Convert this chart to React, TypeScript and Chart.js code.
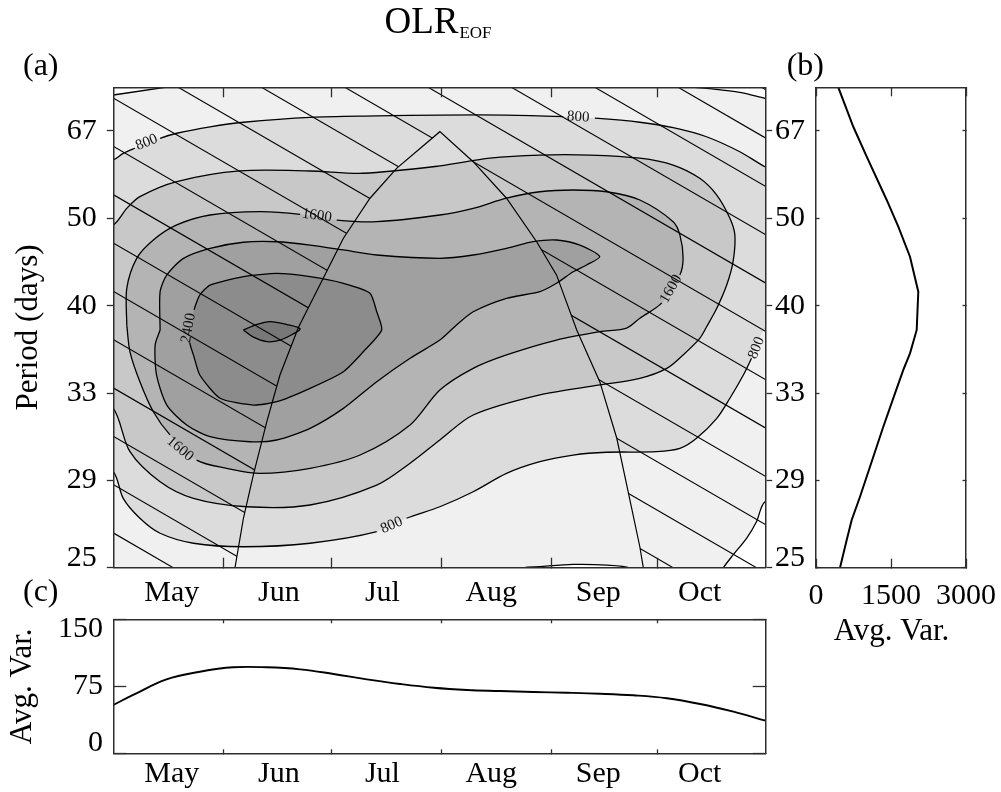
import React, { useEffect, useRef } from 'react';
import { Chart, registerables } from 'chart.js';

Chart.register(...registerables);

/* ================= data ================= */

// x of panels (a) and (c): days since 1 May
const monthLabels = ['May', 'Jun', 'Jul', 'Aug', 'Sep', 'Oct'];
const monthLabelDays = [16.5, 46.7, 75.9, 106.6, 136.8, 165.4];
const monthTickDays = [31, 61.4, 92.6, 123.6, 153.5];
const dayMin = 0;
const dayMax = 184;

// y of panels (a) and (b): frequency in 1e-3 cycles/day, labelled with the period 1000/f (days)
const freqTicks = [15, 20, 25, 30, 35, 40];
const freqMin = 12.5;
const freqMax = 40;

// panel (b): average variance against frequency
const spectrumFreq = [12.5, 14.76, 16.47, 18.95, 20.48, 22.2, 24.2, 26.39, 27.73, 28.68, 30.02, 31.93, 34.22, 35.94, 37.27, 38.41, 40.0];
const spectrumVar = [446, 746, 1014, 1414, 1646, 1880, 2046, 2014, 1880, 1746, 1580, 1346, 1080, 880, 714, 614, 480];
const spectrumVarTicks = [0, 1500, 3000];

// panel (c): average variance against day of season
const seasonDays = [0, 5.6, 15.0, 24.4, 33.8, 43.3, 52.7, 62.1, 71.5, 80.9, 90.4, 99.8, 109.1, 118.5, 127.9, 137.3, 146.7, 156.1, 165.5, 174.9, 184];
const seasonAvgVar = [54.1, 65.3, 82.8, 91.3, 96.3, 96.3, 94.0, 88.8, 82.8, 77.6, 73.4, 70.9, 69.7, 68.6, 67.8, 66.7, 64.9, 61.6, 55.2, 46.6, 36.5];
const seasonVarTicks = [0, 75, 150];

// panel (a): filled contours, [day, freq] outlines (points past the frame close a region outside it)
type Pt = [number, number];
const below400TopLeft: Pt[] = [[-4, 13.06], [0, 12.94], [14.6, 12.5], [24.6, 12.2], [-4, 12.2]];
const below400TopRight: Pt[] = [[192, 13.5], [183.8, 13.13], [176.7, 12.79], [167.3, 12.56], [163, 12.48], [158, 12.2], [192, 12.2]];
const below400BottomRight: Pt[] = [[192, 35.7], [183.8, 36.22], [181.4, 37.37], [178.6, 38.32], [174.8, 39.27], [172.0, 40.02], [170.5, 40.6], [192, 40.6]];
const below400Bottom: Pt[] = [[112, 40.6], [115.5, 40.02], [120.3, 39.94], [129.7, 39.81], [139.1, 39.85], [145.7, 40.02], [149, 40.6]];
const above800: Pt[] = [
  [-6, 16.9], [0, 16.66], [2.8, 16.28], [6.1, 15.99], [13.2, 15.42], [17.9, 15.13], [27.3, 14.76], [36.7, 14.5],
  [55.5, 14.22], [74.3, 14.14], [92.1, 14.09], [110.9, 14.09], [126.9, 14.18], [135.8, 14.27], [148.5, 14.5],
  [157.9, 14.81], [167.3, 15.33], [176.7, 16.19], [183.8, 17.05], [190, 17.6], [190, 26.0], [183.8, 26.33],
  [180.0, 28.01], [177.7, 28.97], [173.9, 30.3], [170.2, 31.45], [164.5, 32.59], [159.8, 33.17], [153.2, 33.36],
  [139.1, 33.39], [129.7, 33.55], [120.3, 33.93], [110.9, 34.6], [101.5, 35.65], [92.1, 36.51], [82.7, 37.17],
  [74.3, 37.94], [55.5, 38.6], [36.7, 38.8], [22.6, 38.6], [13.2, 38.03], [7.5, 37.17], [2.8, 36.03], [0, 34.5],
  [-6, 34.0], [-6, 16.9],
];
const above1200: Pt[] = [
  [-6, 20.6], [0, 20.38], [3.8, 19.43], [7.5, 18.76], [17.9, 17.9], [35.7, 17.29], [55.5, 17.29], [70.5, 17.42],
  [92.1, 17.0], [106.2, 16.56], [120.3, 16.38], [134.4, 16.38], [148.5, 16.56], [157.9, 16.95], [165.4, 17.71],
  [170.2, 18.67], [173.9, 20.0], [175.3, 20.95], [174.8, 22.48], [173.0, 23.82], [170.2, 25.15], [167.3, 26.22],
  [165.4, 26.87], [160.7, 27.82], [156.1, 28.59], [148.5, 29.16], [137.2, 29.54], [120.3, 30.11], [101.5, 31.26],
  [92.1, 32.69], [83.7, 34.02], [74.3, 35.27], [55.5, 36.41], [37.6, 36.51], [22.6, 36.03], [13.2, 35.08],
  [4.7, 33.36], [0, 30.88], [-6, 30.5], [-6, 20.6],
];
const above1600: Pt[] = [
  [3.8, 26.11], [3.8, 24.01], [6.6, 22.29], [11.3, 21.24], [17.9, 20.38], [27.3, 19.81], [41.4, 19.62], [52.7, 19.77],
  [63.0, 20.1], [74.3, 20.19], [92.1, 19.81], [101.5, 19.43], [110.9, 18.85], [120.3, 18.48], [129.7, 18.38],
  [139.1, 18.48], [148.5, 18.95], [157.9, 20.19], [159.8, 20.95], [160.7, 22.29], [159.8, 23.24], [154.7, 24.84],
  [148.5, 25.72], [144.8, 26.28], [137.2, 26.49], [125.0, 26.97], [110.9, 27.82], [101.5, 28.59], [92.1, 29.83],
  [83.7, 31.83], [69.6, 33.55], [55.5, 34.31], [41.4, 34.6], [32.0, 34.31], [23.5, 33.84], [16.0, 32.4],
  [11.3, 31.07], [7.5, 29.35], [4.7, 27.64], [3.8, 26.11],
];
const above2000: Pt[] = [
  [13.2, 26.39], [13.2, 24.2], [15.1, 23.24], [19.8, 22.29], [27.3, 21.72], [36.7, 21.37], [46.1, 21.34], [55.5, 21.53],
  [64.9, 21.81], [74.3, 22.1], [92.1, 22.29], [101.5, 22.1], [110.9, 21.72], [118.4, 21.34], [125.0, 21.24],
  [131.6, 21.53], [137.2, 22.19], [133.5, 22.67], [129.7, 23.06], [125.0, 23.72], [120.3, 24.2], [110.9, 24.58],
  [101.5, 25.35], [96.8, 26.11], [92.1, 26.97], [83.7, 28.01], [74.3, 29.35], [64.9, 30.88], [55.5, 32.02],
  [46.1, 32.69], [38.5, 32.79], [27.3, 32.5], [20.7, 31.83], [15.1, 30.69], [12.2, 28.97], [11.8, 27.25], [13.2, 26.39],
];
const above2400: Pt[] = [
  [22.6, 27.82], [21.6, 27.12], [22.8, 25.24], [24.4, 24.39], [27.3, 23.82], [36.7, 23.34], [46.1, 23.15], [55.5, 23.34],
  [64.9, 23.72], [72.4, 24.29], [74.3, 25.35], [75.7, 26.39], [70.5, 27.64], [64.9, 28.78], [55.5, 29.73],
  [46.1, 30.5], [39.5, 30.69], [30.1, 30.3], [24.4, 28.97], [22.6, 27.82],
];
const above2800: Pt[] = [
  [36.7, 26.39], [40.0, 26.11], [44.2, 25.91], [49.0, 26.08], [52.7, 26.33], [50.7, 26.62], [47.0, 26.97],
  [43.3, 27.06], [39.4, 26.79], [36.7, 26.39],
];

// contour labels
const contourLabels = [
  { text: '800', day: 9.4, freq: 15.66, angle: -22 },
  { text: '800', day: 131.1, freq: 14.2, angle: 3 },
  { text: '1600', day: 57.4, freq: 19.85, angle: 8 },
  { text: '2400', day: 21.2, freq: 26.28, angle: -80 },
  { text: '1600', day: 18.8, freq: 33.2, angle: 40 },
  { text: '800', day: 78.5, freq: 37.58, angle: -24 },
  { text: '1600', day: 157.3, freq: 24.05, angle: -60 },
  { text: '800', day: 181.4, freq: 27.42, angle: -68 },
];

// arch (edge of the unhatched region)
const archDay = [34.3, 36.7, 39.5, 43.3, 47.0, 52.2, 59.2, 64.9, 72.4, 79.9, 92.1, 101.5, 110.9, 119.4, 125.0, 130.7, 137.2, 142.0, 145.2, 148.5, 149.5];
const archFreq = [40.02, 37.17, 34.69, 31.64, 28.97, 26.25, 23.43, 21.14, 18.85, 17.14, 15.04, 16.76, 18.85, 21.34, 23.24, 26.39, 29.35, 32.59, 35.65, 38.8, 40.02];

// hatch lines outside the arch: day where each meets the top (f = 12.5) and bottom (f = 40)
const hatchTopDay = [-216.7, -193.2, -169.7, -146.2, -122.7, -99.2, -75.7, -52.2, -28.7, -5.2, 18.3, 41.8, 65.3, 88.8, 112.3, 135.8, 159.3, 182.8];
const hatchBottomDay = [16.9, 40.4, 63.9, 87.4, 110.9, 134.4, 157.9, 181.4, 204.9, 228.4, 251.9, 275.4, 298.9, 322.4, 345.9, 369.4, 392.9, 416.4];

/* ================= styling ================= */

const SERIF = "'Liberation Serif', 'Times New Roman', Times, serif";
const FRAME = '#2e2e2e';
const W = 1001;
const H = 792;
const AX = { family: SERIF, size: 30 };
const border = { display: true, color: FRAME, width: 1.5, z: 1 };

const regions = [
  { pts: below400TopLeft, shade: '#ffffff', tension: 0 },
  { pts: below400TopRight, shade: '#ffffff', tension: 0.3 },
  { pts: below400BottomRight, shade: '#ffffff', tension: 0.3 },
  { pts: below400Bottom, shade: '#ffffff', tension: 0.3 },
  { pts: above800, shade: '#dcdcdc', tension: 0.3 },
  { pts: above1200, shade: '#c8c8c8', tension: 0.3 },
  { pts: above1600, shade: '#b4b4b4', tension: 0.3 },
  { pts: above2000, shade: '#a0a0a0', tension: 0.25 },
  { pts: above2400, shade: '#8c8c8c', tension: 0.2 },
  { pts: above2800, shade: '#787878', tension: 0.3 },
];

const near = (a: number, b: number) => Math.abs(a - b) < 1e-6;
const sized = (w?: number, h?: number) => (s: any) => {
  if (w !== undefined) s.width = w;
  if (h !== undefined) s.height = h;
  s.paddingLeft = 0; s.paddingRight = 0; s.paddingTop = 0; s.paddingBottom = 0;
};
const setTicks = (vals: number[]) => (s: any) => { s.ticks = vals.map((v) => ({ value: v })); };
const monthTicksAndLabels = [...monthTickDays, ...monthLabelDays].sort((a, b) => a - b);
const monthLabel = (v: number) => {
  const i = monthLabelDays.findIndex((d) => near(d, v));
  return i >= 0 ? monthLabels[i] : '';
};
const monthTickColor = (c: any) => (c.tick && monthTickDays.some((d) => near(d, c.tick.value)) ? FRAME : 'rgba(0,0,0,0)');
const periodLabel = (v: number) => {
  const p = String(Math.round(1000 / v));
  return near(v, freqMax) ? [p, ''] : p;
};

// hide the short piece of a contour line that sits under its label
function labelGap(ctx: any) {
  const chart = ctx.chart;
  const xs = chart.scales.x;
  const ys = chart.scales.y;
  const mx = (ctx.p0.x + ctx.p1.x) / 2;
  const my = (ctx.p0.y + ctx.p1.y) / 2;
  for (const lb of contourLabels) {
    const dx = xs.getPixelForValue(lb.day) - mx;
    const dy = ys.getPixelForValue(lb.freq) - my;
    if (dx * dx + dy * dy < 144) return 'rgba(0,0,0,0)';
  }
  return undefined;
}

const contourPlugin = {
  id: 'contourPanel',
  beforeDatasetsDraw(chart: any) {
    const { ctx, chartArea: a } = chart;
    ctx.save();
    ctx.fillStyle = '#f0f0f0';
    ctx.fillRect(a.left, a.top, a.right - a.left, a.bottom - a.top);
    ctx.restore();
  },
  beforeDatasetDraw(chart: any, args: any) {
    const ds = chart.data.datasets[args.index];
    const { ctx, chartArea: a } = chart;
    if (ds.regionColor && args.meta.dataset) {
      const line = args.meta.dataset;
      ctx.save();
      ctx.beginPath();
      ctx.rect(a.left, a.top, a.right - a.left, a.bottom - a.top);
      ctx.clip();
      ctx.beginPath();
      line.segments.forEach((s: any, i: number) => line.pathSegment(ctx, s, { move: i === 0 }));
      ctx.closePath();
      ctx.fillStyle = ds.regionColor;
      ctx.fill();
      ctx.restore();
    }
    if (ds.hatch) {
      const xs = chart.scales.x;
      const ys = chart.scales.y;
      ctx.save();
      ctx.beginPath();
      ctx.rect(a.left, a.top, a.right - a.left, a.bottom - a.top);
      archDay.forEach((d, i) => {
        const px = xs.getPixelForValue(d);
        const py = ys.getPixelForValue(archFreq[i]);
        if (i === 0) ctx.moveTo(px, py); else ctx.lineTo(px, py);
      });
      ctx.closePath();
      ctx.clip('evenodd');
    }
  },
  afterDatasetDraw(chart: any, args: any) {
    const ds = chart.data.datasets[args.index];
    if (ds.hatch) chart.ctx.restore();
  },
  afterDatasetsDraw(chart: any) {
    const { ctx } = chart;
    const xs = chart.scales.x;
    const ys = chart.scales.y;
    for (const lb of contourLabels) {
      ctx.save();
      ctx.translate(xs.getPixelForValue(lb.day), ys.getPixelForValue(lb.freq));
      ctx.rotate((lb.angle * Math.PI) / 180);
      ctx.font = `15px ${SERIF}`;
      ctx.fillStyle = '#111';
      ctx.textAlign = 'center';
      ctx.textBaseline = 'middle';
      ctx.fillText(lb.text, 0, 0);
      ctx.restore();
    }
  },
  afterDraw(chart: any) {
    const { ctx, chartArea: a } = chart;
    ctx.save();
    ctx.fillStyle = '#000';
    ctx.textAlign = 'left';
    ctx.textBaseline = 'alphabetic';
    ctx.font = `37px ${SERIF}`;
    const w1 = ctx.measureText('OLR').width;
    ctx.font = `17px ${SERIF}`;
    const w2 = ctx.measureText('EOF').width;
    const x0 = (a.left + a.right) / 2 - 2 - (w1 + w2) / 2;
    ctx.font = `37px ${SERIF}`;
    ctx.fillText('OLR', x0, a.top - 54.3);
    ctx.font = `17px ${SERIF}`;
    ctx.fillText('EOF', x0 + w1 + 1, a.top - 49.8);
    ctx.font = `32px ${SERIF}`;
    ctx.fillText('(a)', 23, a.top - 12.3);
    ctx.translate(29, (a.top + a.bottom) / 2);
    ctx.rotate(-Math.PI / 2);
    ctx.textAlign = 'center';
    ctx.textBaseline = 'middle';
    ctx.font = `31px ${SERIF}`;
    ctx.fillText('Period (days)', 0, 0);
    ctx.restore();
  },
};

const spectrumTextPlugin = {
  id: 'spectrumText',
  afterDraw(chart: any) {
    const { ctx, chartArea: a } = chart;
    ctx.save();
    ctx.fillStyle = '#000';
    ctx.font = `32px ${SERIF}`;
    ctx.textAlign = 'left';
    ctx.textBaseline = 'alphabetic';
    ctx.fillText('(b)', a.left - 29.3, a.top - 12.3);
    ctx.font = `31px ${SERIF}`;
    ctx.textAlign = 'center';
    ctx.textBaseline = 'middle';
    ctx.fillText('Avg. Var.', (a.left + a.right) / 2 + 0.5, a.bottom + 64);
    ctx.restore();
  },
};

const seasonTextPlugin = {
  id: 'seasonText',
  afterDraw(chart: any) {
    const { ctx, chartArea: a } = chart;
    ctx.save();
    ctx.fillStyle = '#000';
    ctx.font = `32px ${SERIF}`;
    ctx.textAlign = 'left';
    ctx.textBaseline = 'alphabetic';
    ctx.fillText('(c)', 23, a.top - 18.3);
    ctx.translate(23, (a.top + a.bottom) / 2);
    ctx.rotate(-Math.PI / 2);
    ctx.font = `31px ${SERIF}`;
    ctx.textAlign = 'center';
    ctx.textBaseline = 'middle';
    ctx.fillText('Avg. Var.', 0, 0);
    ctx.restore();
  },
};

const baseOptions = {
  responsive: false,
  animation: false,
  devicePixelRatio: 1,
  events: [],
  elements: { line: { capBezierPoints: false }, point: { radius: 0 } },
  plugins: { legend: { display: false }, tooltip: { enabled: false } },
};

function configA(): any {
  const datasets: any[] = [];
  regions.forEach((r) =>
    datasets.push({
      data: r.pts.map(([x, y]) => ({ x, y })),
      regionColor: r.shade,
      showLine: true,
      pointRadius: 0,
      borderColor: '#000',
      borderWidth: 1.3,
      tension: r.tension,
      fill: false,
      segment: { borderColor: labelGap },
    }),
  );
  hatchTopDay.forEach((d, i) =>
    datasets.push({
      data: [{ x: d, y: freqMin }, { x: hatchBottomDay[i], y: freqMax }],
      hatch: true,
      showLine: true,
      pointRadius: 0,
      borderColor: '#000',
      borderWidth: 1.15,
      tension: 0,
    }),
  );
  datasets.push({
    data: archDay.map((d, i) => ({ x: d, y: archFreq[i] })),
    showLine: true,
    pointRadius: 0,
    borderColor: '#000',
    borderWidth: 1.2,
    tension: 0,
  });
  datasets.forEach((d, i) => {
    d.order = datasets.length - i;
    d.xAxisID = 'x';
    d.yAxisID = 'y';
    d.clip = 0;
  });
  const yCommon = {
    type: 'linear', reverse: true, min: freqMin, max: freqMax,
    afterBuildTicks: setTicks(freqTicks), afterFit: sized(60),
    grid: { drawOnChartArea: false, tickLength: 6.5, tickWidth: 1.3, color: FRAME, z: 1 },
    border,
  };
  return {
    type: 'scatter',
    data: { datasets },
    options: {
      ...baseOptions,
      layout: { padding: { left: 113.3 - 60, right: W - 765.7 - 60, top: 87.3, bottom: H - 567.7 - 60 } },
      scales: {
        x: {
          type: 'linear', position: 'bottom', min: dayMin, max: dayMax,
          afterBuildTicks: setTicks(monthTicksAndLabels), afterFit: sized(undefined, 60),
          ticks: { autoSkip: false, maxRotation: 0, minRotation: 0, padding: 17.3, color: '#000', font: AX, callback: monthLabel },
          grid: { drawOnChartArea: false, tickLength: -10, tickWidth: 1.3, color: monthTickColor, z: 1 },
          border,
        },
        xTop: {
          type: 'linear', position: 'top', min: dayMin, max: dayMax,
          afterBuildTicks: setTicks(monthTickDays), afterFit: sized(undefined, 0),
          ticks: { display: false },
          grid: { drawOnChartArea: false, tickLength: -10, tickWidth: 1.3, color: FRAME, z: 1 },
          border,
        },
        y: { ...yCommon, position: 'left', ticks: { padding: 10, color: '#000', font: { ...AX, lineHeight: 0.65 }, callback: periodLabel } },
        yRight: { ...yCommon, position: 'right', ticks: { padding: 2.8, color: '#000', font: { ...AX, lineHeight: 0.65 }, callback: periodLabel } },
      },
    },
    plugins: [contourPlugin],
  };
}

function configB(): any {
  const yCommon = {
    type: 'linear', reverse: true, min: freqMin, max: freqMax,
    afterBuildTicks: setTicks(freqTicks), afterFit: sized(0),
    ticks: { display: false },
    grid: { drawOnChartArea: false, tickLength: -3.5, tickWidth: 1.3, color: FRAME, z: 1 },
    border,
  };
  return {
    type: 'scatter',
    data: {
      datasets: [{
        data: spectrumVar.map((v, i) => ({ x: v, y: spectrumFreq[i] })),
        showLine: true, pointRadius: 0, borderColor: '#000', borderWidth: 2, tension: 0,
        xAxisID: 'x', yAxisID: 'y',
      }],
    },
    options: {
      ...baseOptions,
      layout: { padding: { left: 816, right: W - 966, top: 87.3, bottom: H - 567.7 - 60 } },
      scales: {
        x: {
          type: 'linear', position: 'bottom', min: 0, max: 3000,
          afterBuildTicks: setTicks(spectrumVarTicks), afterFit: sized(undefined, 60),
          ticks: { autoSkip: false, maxRotation: 0, minRotation: 0, padding: 19.8, color: '#000', font: AX, callback: (v: number) => String(v) },
          grid: { drawOnChartArea: false, tickLength: -9, tickWidth: 1.3, color: FRAME, z: 1 },
          border,
        },
        xTop: {
          type: 'linear', position: 'top', min: 0, max: 3000,
          afterBuildTicks: setTicks(spectrumVarTicks), afterFit: sized(undefined, 0),
          ticks: { display: false },
          grid: { drawOnChartArea: false, tickLength: -9, tickWidth: 1.3, color: FRAME, z: 1 },
          border,
        },
        y: { ...yCommon, position: 'left' },
        yRight: { ...yCommon, position: 'right' },
      },
    },
    plugins: [spectrumTextPlugin],
  };
}

function configC(): any {
  const varLabel = (v: number) => (near(v, 0) ? ['0', ''] : near(v, 150) ? ['', '150'] : String(v));
  return {
    type: 'scatter',
    data: {
      datasets: [{
        data: seasonDays.map((d, i) => ({ x: d, y: seasonAvgVar[i] })),
        showLine: true, pointRadius: 0, borderColor: '#000', borderWidth: 1.9, tension: 0.4,
        xAxisID: 'x', yAxisID: 'y',
      }],
    },
    options: {
      ...baseOptions,
      layout: { padding: { left: 113.3 - 60, right: W - 765.7, top: 619.3, bottom: 0 } },
      scales: {
        x: {
          type: 'linear', position: 'bottom', min: dayMin, max: dayMax,
          afterBuildTicks: setTicks(monthTicksAndLabels), afterFit: sized(undefined, H - 753.3),
          ticks: { autoSkip: false, maxRotation: 0, minRotation: 0, padding: 6.5, color: '#000', font: AX, callback: monthLabel },
          grid: { drawOnChartArea: false, tickLength: -4, tickWidth: 1.3, color: monthTickColor, z: 1 },
          border,
        },
        xTop: {
          type: 'linear', position: 'top', min: dayMin, max: dayMax,
          afterBuildTicks: setTicks(monthTickDays), afterFit: sized(undefined, 0),
          ticks: { display: false },
          grid: { drawOnChartArea: false, tickLength: -4, tickWidth: 1.3, color: FRAME, z: 1 },
          border,
        },
        y: {
          type: 'linear', position: 'left', min: 0, max: 150,
          afterBuildTicks: setTicks(seasonVarTicks), afterFit: sized(60),
          ticks: { padding: 23.3, color: '#000', font: { ...AX, lineHeight: 0.667 }, callback: varLabel },
          grid: { drawOnChartArea: false, tickLength: -13, tickWidth: 1.3, color: FRAME, z: 1 },
          border,
        },
        yRight: {
          type: 'linear', position: 'right', min: 0, max: 150,
          afterBuildTicks: setTicks(seasonVarTicks), afterFit: sized(0),
          ticks: { display: false },
          grid: { drawOnChartArea: false, tickLength: -13, tickWidth: 1.3, color: FRAME, z: 1 },
          border,
        },
      },
    },
    plugins: [seasonTextPlugin],
  };
}

export default function App() {
  const refA = useRef<HTMLCanvasElement>(null);
  const refB = useRef<HTMLCanvasElement>(null);
  const refC = useRef<HTMLCanvasElement>(null);

  useEffect(() => {
    const charts = [
      new Chart(refA.current as HTMLCanvasElement, configA()),
      new Chart(refB.current as HTMLCanvasElement, configB()),
      new Chart(refC.current as HTMLCanvasElement, configC()),
    ];
    return () => charts.forEach((c) => c.destroy());
  }, []);

  const cs: React.CSSProperties = { position: 'absolute', left: 0, top: 0, width: W, height: H };
  return (
    <div style={{ position: 'absolute', left: 0, top: 0, width: W, height: H, background: '#ffffff' }}>
      <canvas ref={refA} width={W} height={H} style={cs} />
      <canvas ref={refB} width={W} height={H} style={cs} />
      <canvas ref={refC} width={W} height={H} style={cs} />
    </div>
  );
}
